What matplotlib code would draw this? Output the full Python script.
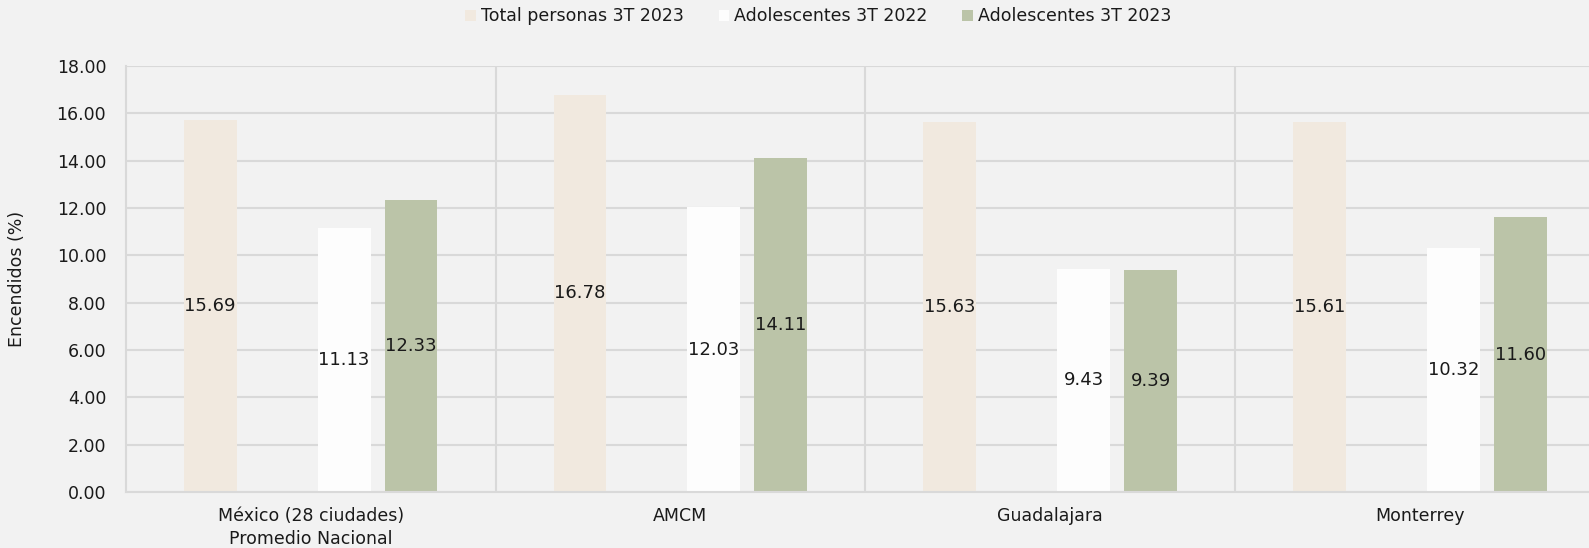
import matplotlib
matplotlib.use('Agg')
import matplotlib.pyplot as plt
import numpy as np

# datos
ciudades = ['México (28 ciudades)\nPromedio Nacional', 'AMCM', 'Guadalajara', 'Monterrey']
total_2023 = [15.69, 16.78, 15.63, 15.61]
adol_2022 = [11.13, 12.03, 9.43, 10.32]
adol_2023 = [12.33, 14.11, 9.39, 11.60]
series = ['Total personas 3T 2023', 'Adolescentes 3T 2022', 'Adolescentes 3T 2023']
colores = ['#f1e9df', '#fdfdfd', '#bbc4a8']

plt.rcParams['font.family'] = ['DejaVu Sans']
bg = '#f2f2f2'
grid = '#d9d9d9'

fig = plt.figure(figsize=(15.89, 5.48), dpi=100, facecolor=bg)
# the plot runs past the right edge of the figure, as in the original
ax = fig.add_axes([0.0791, 0.102, 0.931, 0.778], facecolor=bg)

x = np.arange(len(ciudades))
slot = 0.181
ancho = 0.143
# the second slot of each group stays empty in the original
offsets = [-1.5 * slot, 0.5 * slot, 1.5 * slot]

for vals, off, col, nom in zip([total_2023, adol_2022, adol_2023], offsets, colores, series):
    barras = ax.bar(x + off, vals, width=ancho, color=col, label=nom, zorder=2)
    for b, v in zip(barras, vals):
        ax.text(b.get_x() + b.get_width() / 2, v / 2, f'{v:.2f}', ha='center', va='center',
                fontsize=13, color='#1a1a1a', zorder=3)

ax.set_xlim(-0.5, len(ciudades) - 0.5)
ax.set_ylim(0, 18)
ax.set_yticks(np.arange(0, 18.01, 2))
ax.set_yticklabels([f'{t:.2f}' for t in np.arange(0, 18.01, 2)], fontsize=12.5, color='#1a1a1a')
ax.set_xticks(x)
ax.set_xticklabels(ciudades, fontsize=12.5, color='#1a1a1a', linespacing=1.3)
ax.tick_params(axis='y', length=0, pad=14)
ax.tick_params(axis='x', length=0, pad=11)

ax.yaxis.grid(True, color=grid, linewidth=1.5, zorder=0)
for sep in np.arange(0.5, len(ciudades) - 0.5, 1):
    ax.axvline(sep, color=grid, linewidth=1.5, zorder=0)
for s in ['top', 'right']:
    ax.spines[s].set_visible(False)
for s in ['left', 'bottom']:
    ax.spines[s].set_color(grid)
    ax.spines[s].set_linewidth(1.5)

ax.set_ylabel('Encendidos (%)', fontsize=12.5, color='#1a1a1a', labelpad=22)

leg = fig.legend(loc='upper center', bbox_to_anchor=(0.515, 1.015), ncol=3, frameon=False,
                 fontsize=12.5, handlelength=0.6, handleheight=0.6, handletextpad=0.3,
                 columnspacing=2.0)
for t in leg.get_texts():
    t.set_color('#1a1a1a')

fig.savefig('out.png', dpi=100, facecolor=bg)
